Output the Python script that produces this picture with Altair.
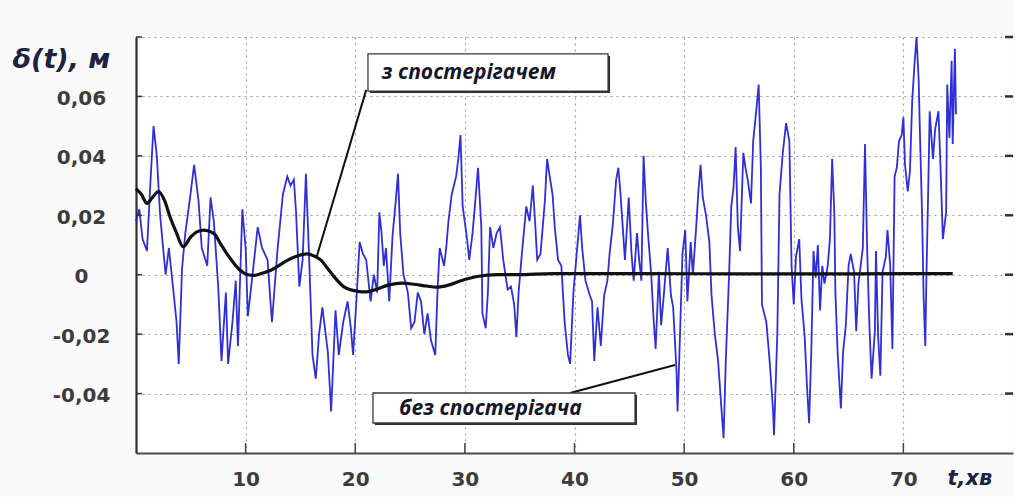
import altair as alt
import pandas as pd

# Deviation without the observer (noisy trace), time in minutes, metres
t_free = [
    0.0, 0.3, 0.6, 1.0, 1.3, 1.6, 1.9, 2.2, 2.7, 3.0, 3.4, 3.7, 3.9, 4.2, 4.5, 4.9,
    5.3, 5.7, 6.0, 6.5, 6.8, 7.1, 7.5, 7.8, 8.2, 8.4, 8.8, 9.1, 9.3, 9.7, 10.0, 10.2,
    10.6, 11.1, 11.5, 12.0, 12.4, 12.9, 13.4, 13.8, 14.1, 14.4, 14.6, 14.9, 15.2, 15.5,
    15.8, 16.1, 16.4, 16.7, 17.0, 17.5, 17.8, 18.2, 18.5, 18.9, 19.3, 19.6, 19.8, 20.1,
    20.4, 20.7, 21.0, 21.4, 21.7, 22.0, 22.2, 22.4, 22.6, 22.8, 23.1, 23.4, 23.7, 23.9,
    24.1, 24.4, 24.8, 25.1, 25.4, 25.7, 26.0, 26.3, 26.6, 26.9, 27.3, 27.5, 27.7, 28.1,
    28.3, 28.5, 28.8, 29.2, 29.4, 29.6, 29.8, 30.2, 30.4, 30.7, 31.0, 31.2, 31.5, 31.6,
    31.9, 32.1, 32.3, 32.6, 32.9, 33.2, 33.5, 33.9, 34.2, 34.5, 34.7, 34.9, 35.2, 35.6,
    35.9, 36.2, 36.4, 36.6, 36.9, 37.3, 37.5, 37.7, 38.0, 38.2, 38.5, 38.8, 39.1, 39.4,
    39.6, 39.9, 40.2, 40.5, 40.7, 41.0, 41.4, 41.6, 41.8, 42.1, 42.4, 42.7, 43.0, 43.2,
    43.5, 43.8, 44.0, 44.2, 44.4, 44.6, 44.95, 45.2, 45.4, 45.7, 45.9, 46.1, 46.3, 46.5,
    46.7, 47.0, 47.2, 47.4, 47.7, 47.9, 48.1, 48.5, 48.8, 49.0, 49.3, 49.4, 49.6, 49.85,
    50.1, 50.3, 50.6, 50.8, 51.1, 51.3, 51.5, 51.7, 52.0, 52.3, 52.5, 52.8, 53.1, 53.4,
    53.6, 53.8, 54.1, 54.3, 54.5, 54.7, 54.9, 55.1, 55.4, 55.6, 55.8, 56.1, 56.3, 56.6,
    56.8, 57.0, 57.1, 57.5, 57.8, 58.1, 58.2, 58.5, 58.7, 59.0, 59.3, 59.6, 59.8, 60.0,
    60.2, 60.5, 60.7, 61.0, 61.2, 61.4, 61.6, 61.8, 62.0, 62.2, 62.4, 62.6, 62.8, 63.1,
    63.3, 63.5, 63.7, 63.8, 64.0, 64.3, 64.5, 64.75, 65.0, 65.2, 65.5, 65.7, 65.9, 66.1,
    66.3, 66.5, 66.7, 66.9, 67.1, 67.4, 67.5, 67.7, 67.9, 68.1, 68.4, 68.55, 68.8, 69.0,
    69.2, 69.4, 69.6, 69.85, 70.0, 70.15, 70.4, 70.6, 70.8, 71.0, 71.2, 71.4, 71.5, 71.7,
    71.85, 72.0, 72.1, 72.3, 72.4, 72.7, 72.9, 73.2, 73.4, 73.6, 73.9, 74.0, 74.2, 74.4,
    74.5, 74.7, 74.8,
]
d_free = [
    0.018, 0.022, 0.012, 0.008, 0.030, 0.050, 0.040, 0.020, 0.000, 0.009, -0.005, -0.016,
    -0.030, 0.002, 0.014, 0.025, 0.037, 0.025, 0.009, 0.003, 0.026, 0.018, -0.004, -0.029,
    -0.006, -0.030, -0.016, -0.002, -0.024, 0.022, 0.009, -0.014, -0.001, 0.016, 0.009,
    0.005, -0.016, 0.008, 0.027, 0.033, 0.030, 0.032, 0.021, -0.004, 0.005, 0.034, 0.005,
    -0.027, -0.035, -0.020, -0.011, -0.026, -0.046, -0.012, -0.027, -0.016, -0.009, -0.018,
    -0.027, -0.009, 0.011, 0.007, 0.005, -0.009, 0.000, -0.006, 0.021, 0.014, 0.003, 0.009,
    -0.009, 0.013, 0.025, 0.034, 0.014, 0.000, -0.006, -0.018, -0.016, -0.006, -0.009,
    -0.020, -0.013, -0.022, -0.027, -0.006, 0.009, 0.003, 0.009, 0.018, 0.027, 0.033, 0.039,
    0.047, 0.023, 0.012, 0.005, 0.014, 0.027, 0.036, 0.016, -0.013, -0.018, -0.006, 0.016,
    0.009, 0.014, 0.016, 0.005, -0.005, -0.004, -0.010, -0.021, -0.006, 0.007, 0.023, 0.018,
    0.030, 0.018, 0.005, 0.007, 0.025, 0.039, 0.034, 0.027, 0.016, 0.005, 0.003, -0.016,
    -0.027, -0.030, -0.006, 0.007, 0.020, 0.009, -0.002, -0.007, -0.009, -0.029, -0.011,
    -0.024, -0.007, -0.002, 0.007, 0.017, 0.032, 0.036, 0.027, 0.016, 0.005, 0.026, 0.007,
    -0.002, 0.014, 0.005, -0.002, 0.040, 0.025, 0.014, 0.000, -0.014, -0.025, 0.001, -0.017,
    -0.009, 0.009, -0.007, -0.011, -0.032, -0.046, -0.023, 0.007, 0.015, -0.009, 0.011,
    0.000, 0.016, 0.028, 0.037, 0.026, 0.020, 0.011, -0.007, -0.020, -0.029, -0.045, -0.055,
    -0.029, 0.000, 0.023, 0.029, 0.043, 0.016, 0.008, 0.041, 0.036, 0.032, 0.024, 0.045,
    0.056, 0.064, 0.036, -0.010, -0.016, -0.029, -0.045, -0.054, -0.020, 0.027, 0.041,
    0.051, 0.045, 0.003, -0.010, 0.006, 0.012, -0.008, -0.021, -0.037, -0.050, -0.026,
    0.008, -0.001, 0.010, -0.012, 0.003, -0.003, 0.003, 0.012, 0.039, 0.021, -0.006, -0.026,
    -0.045, -0.026, -0.017, 0.003, 0.007, 0.001, -0.019, -0.003, 0.003, 0.009, 0.044, 0.008,
    -0.017, -0.035, -0.019, 0.008, -0.021, -0.034, 0.001, 0.006, 0.015, 0.003, -0.025, 0.033,
    0.036, 0.045, 0.047, 0.053, 0.037, 0.028, 0.035, 0.058, 0.070, 0.080, 0.065, 0.049,
    0.021, -0.008, -0.024, -0.001, 0.035, 0.055, 0.039, 0.049, 0.055, 0.035, 0.012, 0.021,
    0.064, 0.046, 0.072, 0.044, 0.076, 0.054,
]

# Deviation with the observer (smooth trace)
t_obs = [
    0.0, 0.5, 1.0, 1.5, 2.05, 2.6, 3.1, 3.7, 4.3, 5.0, 5.6, 6.2, 7.1, 7.7, 8.3, 8.9, 9.5,
    10.2, 10.8, 11.5, 12.3, 13.0, 13.8, 14.7, 15.6, 16.3, 16.9, 17.5, 18.1, 19.0, 20.1,
    21.0, 22.0, 23.0, 24.3, 25.5, 26.5, 27.4, 28.5, 29.5, 31.1, 33.0, 34.8, 38.0, 45.0,
    55.0, 65.0, 74.5,
]
d_obs = [
    0.029, 0.027, 0.024, 0.026, 0.028, 0.025, 0.0195, 0.014, 0.0094, 0.0127, 0.0145, 0.015,
    0.0139, 0.0105, 0.007, 0.004, 0.0015, 0.0, -0.0002, 0.0005, 0.0015, 0.003, 0.0048,
    0.0063, 0.007, 0.0062, 0.0048, 0.002, -0.0008, -0.0042, -0.0055, -0.0058, -0.0048,
    -0.0035, -0.0028, -0.0033, -0.0038, -0.0042, -0.0035, -0.0022, -0.0006, 0.0, 0.0,
    0.0004, 0.0004, 0.0003, 0.0003, 0.0004,
]

x_grid = [10, 20, 30, 40, 50, 60, 70]
y_grid = [-0.04, -0.02, 0.0, 0.02, 0.04, 0.06, 0.08]

# Callout boxes: [t0, t1, d0, d1] and their captions
box_labels = ["з спостерігачем", "без спостерігача"]
box_t0 = [21.16, 21.62]
box_t1 = [43.06, 45.52]
box_d0 = [0.0618, -0.0499]
box_d1 = [0.0743, -0.0398]
text_t = [22.4, 24.0]
text_d = [0.0679, -0.0452]
# Leader lines from the traces to the boxes
lead_t0 = [16.48, 39.6]
lead_d0 = [0.0060, -0.0398]
lead_t1 = [21.0, 49.17]
lead_d1 = [0.0622, -0.0304]

W, H = 877, 416
LABEL_FONT = "DejaVu Sans"
TITLE_COLOR = "#1d2340"

x_scale = alt.Scale(domain=[0, 80], nice=False, zero=False)
y_scale = alt.Scale(domain=[-0.06, 0.08], nice=False, zero=False)

free_df = pd.DataFrame({"t": t_free, "d": d_free})
obs_df = pd.DataFrame({"t": t_obs, "d": d_obs})
xg_df = pd.DataFrame({"t": x_grid})
yg_df = pd.DataFrame({"d": y_grid})
box_df = pd.DataFrame({"t": box_t0, "t1": box_t1, "d": box_d0, "d1": box_d1})
text_df = pd.DataFrame({"t": text_t, "d": text_d, "label": box_labels})
lead_df = pd.DataFrame({"t": lead_t0, "t1": lead_t1, "d": lead_d0, "d1": lead_d1})

y_label_expr = (
    "datum.value > 0.07 ? '' : (datum.value == 0 ? '0' : "
    "(datum.value < 0 ? '-' : '') + replace(format(abs(datum.value), '.2f'), '.', ','))"
)

x_axis = alt.Axis(
    values=x_grid, grid=True, gridDash=[2, 4], gridColor="#9a9a9a", gridWidth=1.1,
    ticks=False, domainColor="#4a4a4a", domainWidth=2,
    labelFont=LABEL_FONT, labelFontWeight="bold", labelFontSize=20, labelColor="#3c3c3c",
    labelPadding=16,
    title="t,хв", titleFont=LABEL_FONT, titleFontSize=21, titleFontWeight="bold",
    titleFontStyle="italic", titleColor=TITLE_COLOR, titleAlign="left",
    titleBaseline="middle", titleX=811, titleY=25, titleAngle=0,
)
y_axis = alt.Axis(
    values=y_grid, grid=True, gridDash=[2, 4], gridColor="#9a9a9a", gridWidth=1.1,
    ticks=False, domainColor="#2e2e2e", domainWidth=2.2,
    labelFont=LABEL_FONT, labelFontWeight="bold", labelFontSize=20, labelColor="#3c3c3c",
    labelAlign="center", labelBaseline="middle", labelOffset=2, labelPadding=55,
    labelExpr=y_label_expr,
    title="δ(t), м", titleFont=LABEL_FONT, titleFontSize=27, titleFontWeight="bold",
    titleFontStyle="italic", titleColor=TITLE_COLOR, titleAngle=0, titleAlign="left",
    titleBaseline="middle", titleX=-124, titleY=22,
)

# Every layer shares the same scales and axis definitions
X = alt.X("t:Q", scale=x_scale, axis=x_axis)
Y = alt.Y("d:Q", scale=y_scale, axis=y_axis)

free_line = alt.Chart(free_df).mark_line(
    color="#2424d6", strokeWidth=1.8, strokeJoin="miter", opacity=0.95
).encode(x=X, y=Y)

obs_line = alt.Chart(obs_df).mark_line(
    color="#111111", strokeWidth=3.2, interpolate="monotone"
).encode(x=X, y=Y)

# Inward tick marks on the left, right and bottom edges
left_ticks = alt.Chart(yg_df).mark_rule(color="#333333", strokeWidth=1.5).encode(
    y=Y, x=alt.value(0), x2=alt.value(6)
)
right_ticks = alt.Chart(yg_df).mark_rule(color="#333333", strokeWidth=2.5).encode(
    y=Y, x=alt.value(W - 8), x2=alt.value(W)
)
bottom_ticks = alt.Chart(xg_df).mark_rule(color="#444444", strokeWidth=1.5).encode(
    x=X, y=alt.value(H - 10), y2=alt.value(H)
)

leaders = alt.Chart(lead_df).mark_rule(color="#111111", strokeWidth=2).encode(
    x=X, x2="t1:Q", y=Y, y2="d1:Q",
)
box_shadow = alt.Chart(box_df).mark_rect(
    color="#2e2e2e", xOffset=2, x2Offset=2, yOffset=2, y2Offset=2
).encode(x=X, x2="t1:Q", y=Y, y2="d1:Q")
boxes = alt.Chart(box_df).mark_rect(
    fill="white", stroke="#3a3a3a", strokeWidth=1.3
).encode(x=X, x2="t1:Q", y=Y, y2="d1:Q")
captions = alt.Chart(text_df).mark_text(
    align="left", baseline="middle", font="Open Sans", fontSize=21,
    fontStyle="italic", fontWeight="bold", color="#15152a",
).encode(x=X, y=Y, text="label:N")

chart = alt.layer(
    free_line, obs_line, left_ticks, right_ticks, bottom_ticks,
    leaders, box_shadow, boxes, captions,
).properties(
    width=W, height=H, background="#fafafa",
    padding={"left": 136, "top": 37, "right": 2, "bottom": 44},
    autosize=alt.AutoSizeParams(type="none"),
).configure_view(strokeWidth=0, fill="white")

chart.save("out.html", embed_options={"renderer": "svg", "actions": False})
